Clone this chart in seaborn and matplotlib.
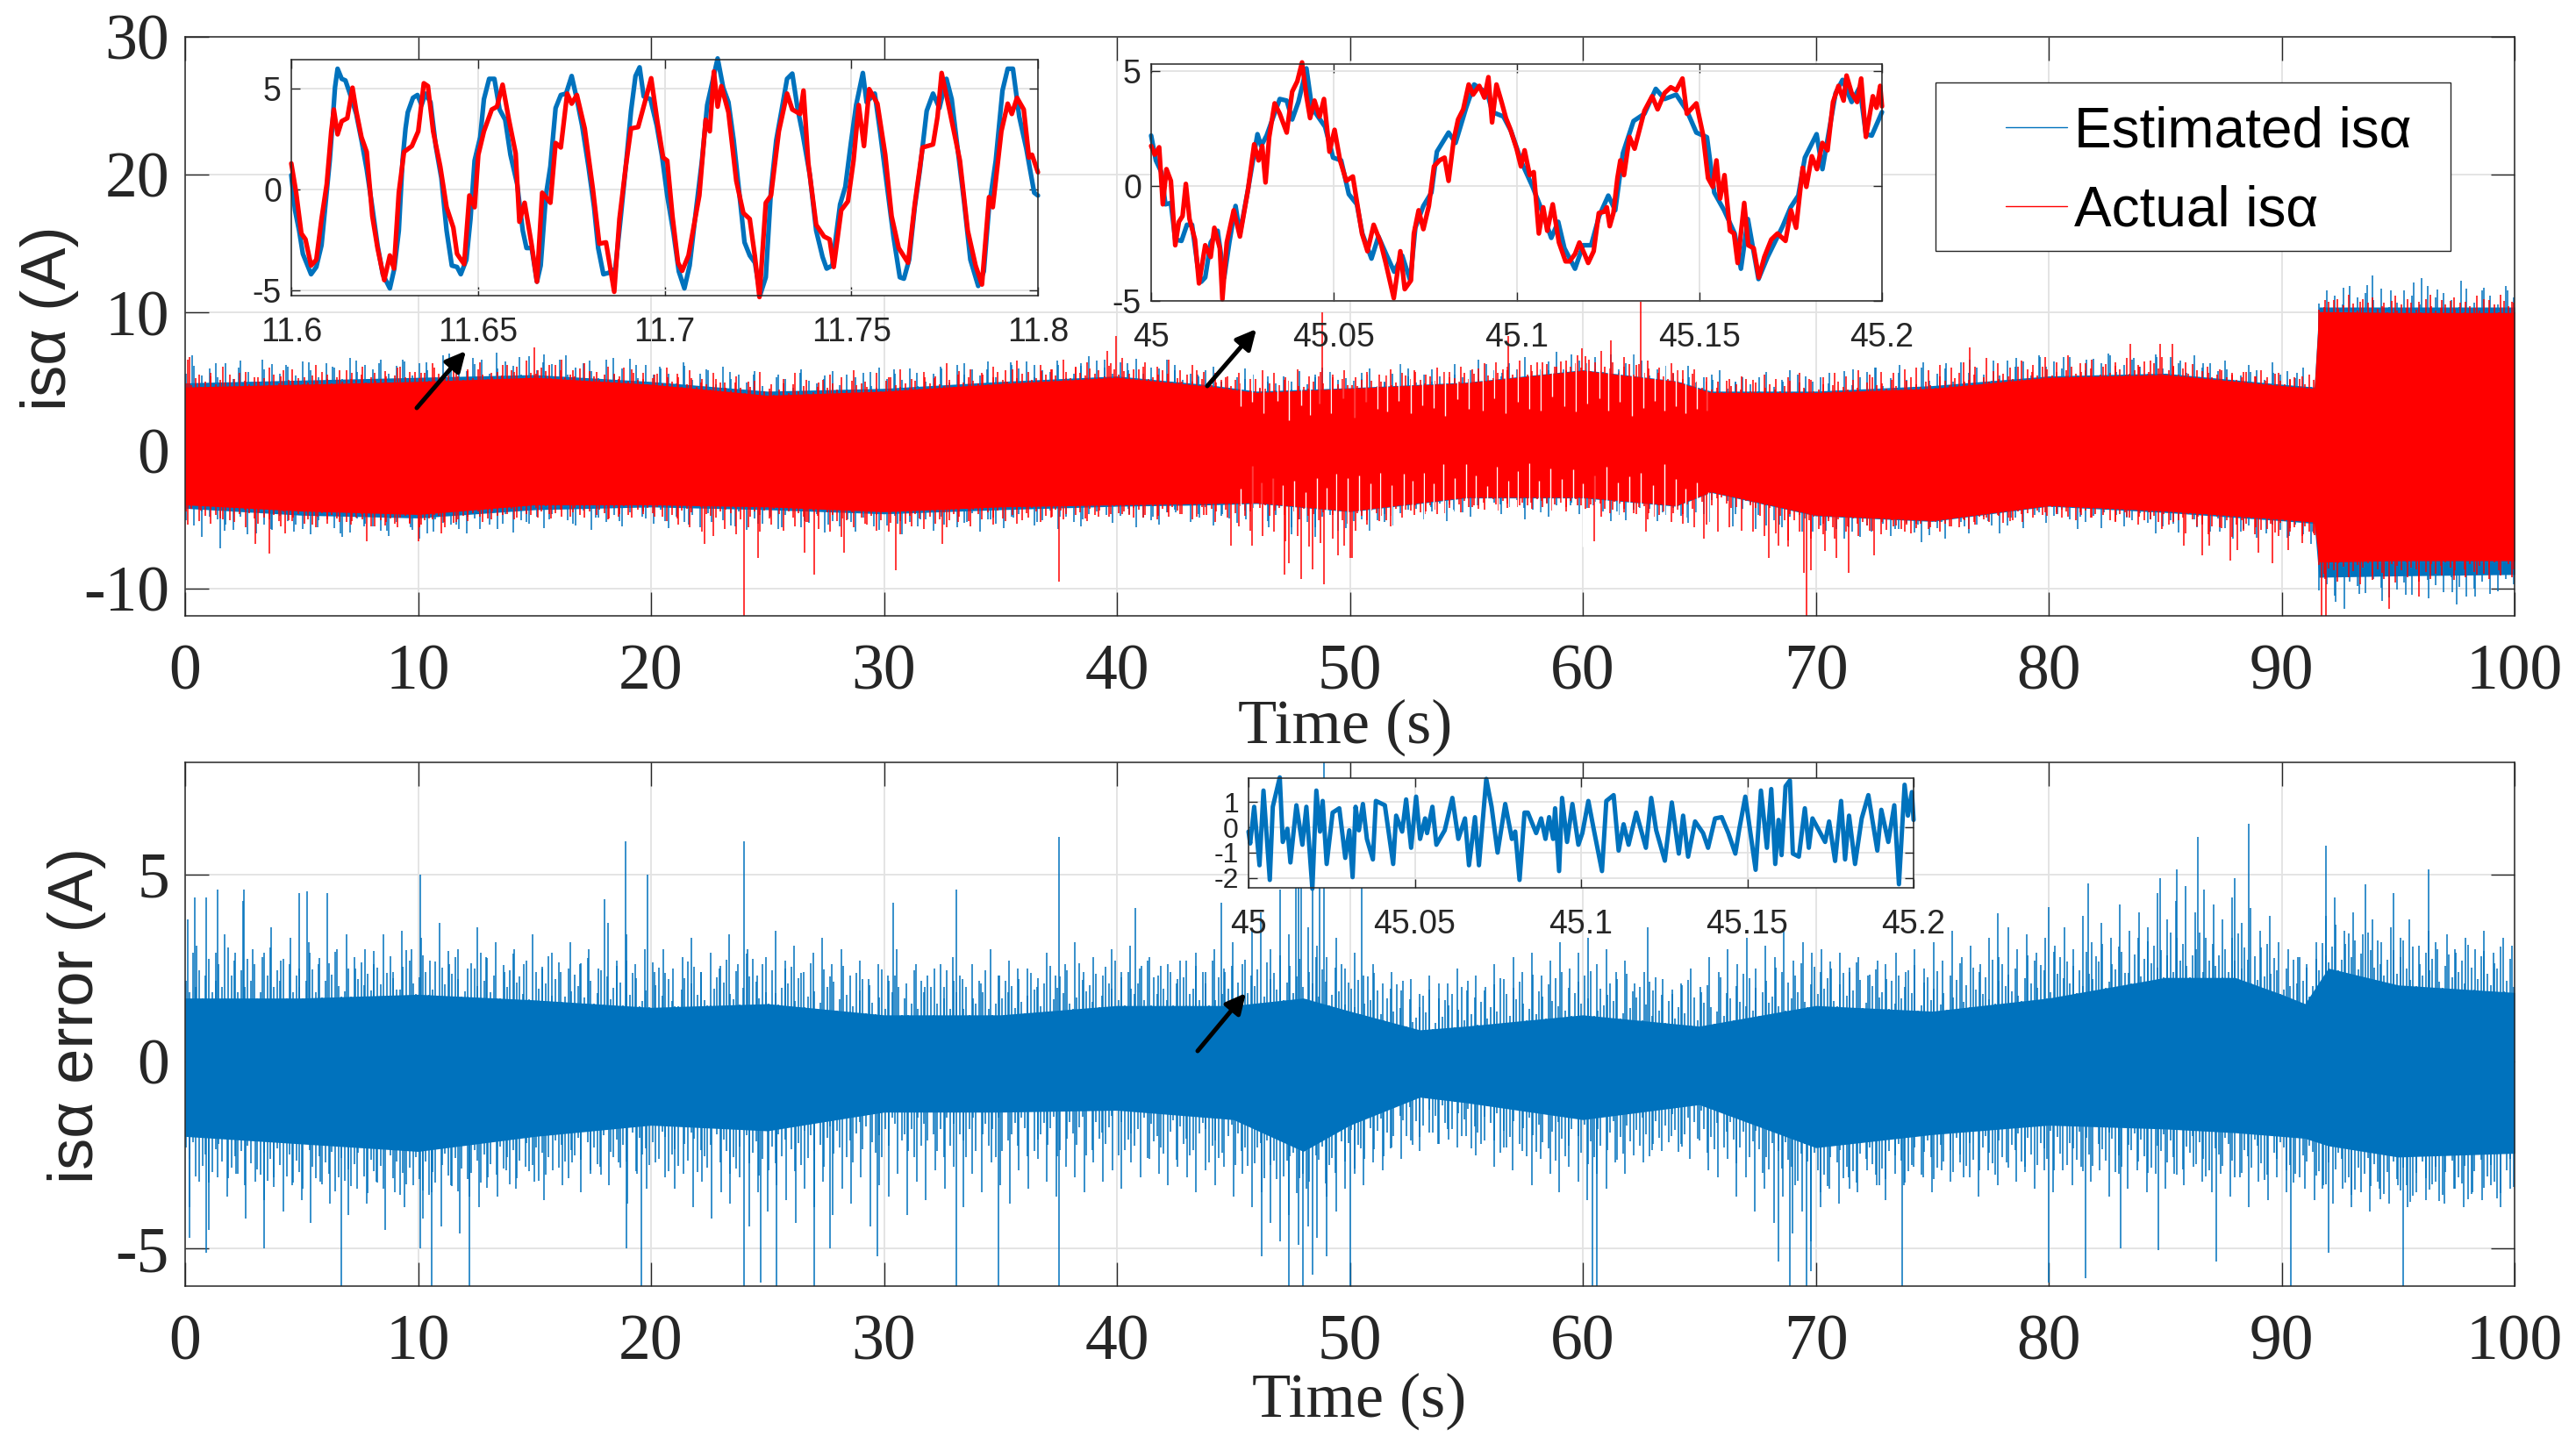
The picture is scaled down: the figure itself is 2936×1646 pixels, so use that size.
import numpy as np
import pandas as pd
import matplotlib
matplotlib.use('Agg')
import matplotlib.pyplot as plt
import seaborn as sns
from matplotlib.lines import Line2D
from matplotlib.patches import Rectangle, FancyArrowPatch

W, H = 2936, 1646
BLUE = '#0072BD'
RED = '#FF0000'
INK = '#262626'
GRID = '#E2E2E2'

# ---- main plot envelopes (A)
band_t = [0, 5, 10, 15, 20, 25, 30, 35, 40, 44, 46, 50, 55, 60, 64, 65.5, 70, 75, 80, 85, 90, 91.4, 91.6, 95, 100]
red_up = [4.6, 4.8, 5.0, 5.3, 4.8, 4.0, 4.3, 4.85, 5.3, 4.65, 4.2, 4.5, 4.9, 5.8, 5.0, 4.2, 4.2, 4.5, 5.3, 5.5, 4.7, 4.5, 10.07, 10.0, 10.0]
red_low = [-3.95, -4.4, -4.65, -3.95, -3.95, -4.1, -4.45, -4.1, -3.95, -3.85, -3.8, -4.4, -3.4, -3.4, -4.0, -3.0, -4.7, -5.1, -4.0, -4.4, -5.0, -5.2, -8.1, -8.0, -8.0]
blue_up = [4.9, 5.1, 5.3, 5.5, 5.0, 4.3, 4.5, 5.0, 5.4, 4.75, 4.3, 4.55, 4.95, 5.85, 5.05, 4.3, 4.3, 4.7, 5.4, 5.6, 4.8, 4.6, 10.4, 10.4, 10.4]
blue_low = [-4.2, -4.7, -4.9, -4.3, -4.1, -4.3, -4.6, -4.3, -4.05, -3.95, -3.85, -4.45, -3.45, -3.45, -4.05, -3.05, -4.75, -5.15, -4.05, -4.5, -5.1, -5.3, -9.2, -9.1, -9.0]

# short fringe on the band edges, height above the envelope in steps of 0.12 A, left to right
red_fringe_up = ("215036142708315240619324015273041862503127049316250841372051"
                 "630142857013264085132706314052916230471538026143075216304812"
                 "403716250148362017453120683241507362140925316047218350126473"
                 "051842630175243068124750316294013572640183251476032158407362"
                 "215840371206483152074316258031467250138260471352906143025718"
                 "360421573084162307452816035214706381250463172058341620573142"
                 "074158236041725318064275130462385017264013582740361528047136"
                 "251360482073146528013672405186324071536208413572604318250746")
red_fringe_low = ("420361572804136250371642058317240653128047362150843126075342"
                  "186250417306241853072614035827160342517068324015673241806352"
                  "714026358140237561048325071683250416273508141362705284130672"
                  "350148263071546238017352460182735041628503174260381547203168"
                  "024713586203416725083142657301824063571248036215740368125073"
                  "268140537261408325760134812057362041853720614358027146385204"
                  "173506284135027461830256147308526401783250461372805314260718"
                  "305241670382154036827451306241857023614507283146052738416025")
blue_fringe_up = ("473628194057362841750936482571630948257136408295714630825917"
                  "364082571946382075194368205719463802571846392075814360259741"
                  "638205971436820597143608259714368025971463082597416380259174"
                  "360825971463082579146308259714630825791463082571946302857194"
                  "638027591463082751946380275194638027519463802751946308275194")
blue_fringe_low = ("571346820957134682059713468205971346820571946382057194638205"
                   "719463820571946382075194638207519463820751946832075194683207"
                   "419568320741956832074195683207419568302741956830274195683027"
                   "415968302741596830274159683027415968302741596380274159638027"
                   "415963802741596380247159638024715963802471596380247159638024")

# taller hair tips, evenly spaced along the band
red_tips_up = [6.6, 5.5, 5.6, 6.1, 5.2, 5.7, 5.3, 6.0, 5.4, 5.9, 5.3, 6.2, 5.5, 5.8, 5.2, 6.1, 5.6, 5.4, 6.0, 5.7,
               5.6, 6.3, 5.5, 6.1, 5.9, 6.4, 5.6, 6.2, 5.7, 6.5, 5.8, 6.2, 6.6, 5.8, 6.3, 5.7, 6.1, 5.4, 5.9, 5.6,
               5.5, 6.0, 5.3, 5.8, 5.2, 5.6, 4.9, 5.4, 5.0, 5.7, 4.8, 5.2, 5.6, 5.1, 4.9, 5.5, 5.3, 5.8, 5.0, 5.6,
               5.3, 5.9, 5.2, 5.7, 5.4, 6.3, 5.5, 5.9, 5.6, 6.1, 5.8, 6.5, 5.7, 6.2, 5.9, 6.6, 6.0, 6.4, 5.8, 6.3,
               6.7, 5.9, 6.4, 6.1, 6.6, 5.8, 6.2, 5.7, 5.6, 5.4, 5.6, 5.2, 5.8, 5.6, 5.3, 5.9, 5.4, 5.7, 5.5, 5.8,
               5.3, 5.7, 5.5, 5.9, 5.6, 5.8, 5.5, 6.0, 5.7, 6.1, 5.9, 6.3, 6.4, 5.8, 6.5, 6.2, 6.4, 6.1, 6.5, 6.9,
               6.6, 7.2, 6.4, 6.8, 6.2, 6.5, 6.0, 6.3, 5.8, 5.9, 5.3, 5.0, 5.2, 5.4, 5.1, 5.5, 5.2, 5.3, 5.6, 5.1,
               5.3, 5.6, 5.4, 5.8, 5.5, 5.7, 5.6, 5.9, 6.0, 5.8, 6.2, 6.0, 6.4, 6.1, 6.7, 6.3, 6.0, 6.5, 6.2, 6.8,
               6.4, 6.9, 6.3, 6.6, 6.1, 6.4, 6.7, 6.2, 6.5, 6.8, 6.1, 6.4, 5.8, 5.6, 5.9, 5.5, 5.7, 5.4, 5.3, 5.6,
               5.2, 5.4, 5.1, 10.9, 11.0, 11.3, 10.8, 11.1, 10.7, 11.2, 11.0, 10.8, 11.3, 10.9, 11.1, 10.8, 11.2, 10.9, 11.3, 10.8]
red_tips_low = [-5.4, -5.1, -5.3, -5.0, -5.2, -5.6, -5.3, -5.0, -5.5, -5.1, -5.3, -5.6, -5.0, -5.2, -5.4, -5.0, -5.5, -5.2, -5.6, -5.3,
                -5.4, -5.0, -5.6, -5.2, -5.1, -4.8, -5.0, -4.7, -5.0, -4.6, -4.9, -4.6, -4.8, -4.5, -4.9, -4.7, -5.0, -4.6, -4.9, -4.6,
                -4.8, -5.1, -5.4, -5.6, -5.9, -6.2, -5.7, -6.1, -5.6, -5.9, -5.4, -5.8, -5.5, -5.2, -5.7, -5.9, -6.3, -5.6, -5.3, -5.8,
                -5.9, -6.1, -5.5, -5.7, -5.3, -5.6, -5.2, -5.5, -5.0, -5.4, -5.1, -5.3, -4.9, -5.2, -4.8, -5.0, -4.7, -5.1, -4.8, -4.6,
                -4.6, -4.9, -4.7, -5.0, -4.8, -4.6, -5.0, -4.7, -5.2, -4.9, -5.5, -5.8, -6.2, -5.9, -6.6, -6.2, -7.0, -6.7, -6.4, -6.9,
                -5.8, -5.4, -5.1, -5.5, -4.9, -4.7, -4.4, -4.6, -4.2, -4.5, -4.1, -4.3, -3.9, -4.2, -4.0, -3.8, -4.1, -3.9, -4.4, -4.0,
                -4.2, -4.8, -4.3, -4.5, -4.6, -5.0, -4.7, -5.2, -5.3, -5.6, -5.4, -5.9, -5.6, -5.8, -5.9, -6.2, -6.0, -6.5, -5.9, -6.4,
                -6.1, -6.4, -5.9, -6.2, -5.8, -6.1, -5.5, -5.9, -5.3, -5.7, -5.2, -5.5, -5.0, -5.4, -4.9, -4.7, -5.1, -4.6, -4.9, -4.5,
                -4.6, -4.8, -4.5, -4.9, -4.7, -5.1, -4.8, -5.4, -5.0, -5.7, -5.2, -6.0, -5.5, -6.1, -5.6, -6.3, -5.8, -6.1, -5.7, -6.2,
                -5.9, -6.2, -6.0, -9.3, -9.5, -9.2, -9.7, -9.4, -9.3, -9.6, -9.2, -9.5, -9.3, -9.1, -9.4, -9.2, -9.0, -9.3, -9.1, -9.2]
blue_tips_up = [6.9, 6.3, 6.0, 6.6, 6.2, 6.4, 6.1, 6.5, 6.3, 6.6, 6.4, 7.0, 6.7, 7.1, 6.8, 6.4, 6.9, 6.5, 6.7, 6.2,
                6.1, 6.4, 5.9, 5.7, 5.5, 5.3, 5.6, 5.2, 5.5, 5.7, 5.9, 5.6, 6.1, 6.3, 5.9, 6.4, 6.2, 6.5, 6.3, 6.6,
                6.3, 6.0, 5.8, 5.5, 5.0, 5.2, 5.4, 5.0, 5.5, 5.1, 5.2, 4.9, 5.4, 5.0, 5.5, 5.2, 5.6, 5.3, 5.8, 5.5,
                5.9, 5.6, 5.2, 5.0, 5.3, 5.1, 4.9, 5.3, 5.0, 5.4, 5.6, 5.9, 6.0, 6.2, 6.4, 6.3, 6.6, 6.5, 6.7, 6.8,
                6.8, 6.6, 6.9, 6.7, 6.8, 6.5, 6.3, 5.9, 5.7, 5.6, 5.6, 5.5, 11.8, 12.0, 11.6, 12.2, 11.7, 12.3, 11.8, 11.6]
blue_tips_low = [-6.3, -5.8, -6.1, -5.7, -5.9, -5.6, -6.0, -5.5, -5.8, -5.6, -5.9, -5.4, -5.7, -5.3, -5.2, -5.0, -5.3, -4.9, -5.1, -4.8,
                 -5.1, -5.4, -5.2, -5.5, -5.3, -5.6, -5.1, -5.4, -5.2, -5.5, -5.3, -5.0, -5.4, -5.2, -5.0, -4.9, -5.2, -4.8, -5.0, -4.7,
                 -4.6, -4.8, -4.5, -4.9, -4.6, -5.0, -5.6, -6.1, -6.3, -5.8, -5.0, -4.6, -4.3, -4.1, -4.3, -4.0, -3.9, -4.2, -3.8, -4.0,
                 -4.0, -4.4, -4.2, -4.5, -4.9, -5.2, -5.5, -5.7, -5.4, -5.9, -5.8, -5.6, -5.9, -5.7, -5.4, -5.2, -5.5, -5.1, -4.9, -4.7,
                 -4.6, -4.8, -4.5, -4.9, -5.0, -5.3, -5.6, -5.9, -5.7, -6.0, -6.2, -5.9, -11.0, -10.4, -10.9, -10.5, -10.7, -10.3, -10.6, -10.2]

# single tall spikes (s, A)
red_spikes = [(0.2, 6.8), (15, 7.5), (39.6, 7.2), (39.96, 8.3), (48.8, 10.0), (56.8, 8.3), (59.96, 7.4), (61.2, 8.0), (62.5, 10.8),
              (76.6, 7.5), (83.5, 7.7), (84.8, 7.7), (85.3, 7.7),
              (3, -6.8), (3.6, -7.5), (4.3, -6.0), (7.8, -6.6), (10, -6.6), (11, -6.0), (22.3, -6.8), (24, -12), (24.6, -7.8),
              (26.6, -7.4), (27, -9), (28.3, -7.4), (30.5, -8.7), (32.5, -6.8), (37.5, -9.5), (44.9, -6.9), (45.8, -6.9),
              (47.2, -9), (47.4, -8.2), (47.9, -9.3), (48.4, -8.6), (48.9, -9.7), (49.5, -7.6), (50, -7.8), (50.1, -7.8),
              (60.5, -6.6), (62.7, -5.9), (65.2, -6.4), (68, -7.8), (68.4, -6.9), (68.8, -7), (69.5, -8.9), (69.6, -12),
              (69.8, -8.7), (70.4, -7.3), (70.9, -7.8), (71.4, -8.9), (72.5, -7.6), (85.8, -6.9), (86.6, -7.6), (86.9, -6.9),
              (87.8, -8), (88.1, -7.2), (89, -7.4), (89.6, -8.2), (90.3, -7.2), (90.9, -6.7), (91.7, -12), (91.9, -12),
              (94.6, -11.5), (95.9, -10.6)]
blue_spikes = [(1.5, -7.1), (92.7, -11.5), (93.9, 12.7), (96, 12.5), (97.5, -11.2)]

# white slits inside the sparse stretch from 45 s to 65 s (s, A where the slit ends)
slits_up = [(45.3, 3.2), (45.8, 3.5), (46.3, 2.7), (46.9, 3.6), (47.4, 2.2), (47.9, 3.3), (48.3, 2.6), (48.7, 3.4), (49.2, 2.7),
            (49.7, 3.8), (50.2, 2.4), (50.7, 3.5), (51.2, 3.0), (51.6, 2.8), (52.1, 3.6), (52.6, 2.7), (53.1, 3.3), (53.6, 3.1),
            (54.1, 2.5), (54.6, 3.7), (55.1, 3.0), (55.7, 2.9), (56.2, 3.8), (56.7, 2.7), (57.2, 3.5), (57.7, 3.0), (58.2, 2.9),
            (58.7, 3.9), (59.2, 3.2), (59.7, 2.8), (60.2, 3.4), (60.7, 3.8), (61.1, 2.9), (61.6, 3.5), (62.1, 2.5), (62.6, 3.1),
            (63.1, 3.6), (63.5, 2.9), (64, 3.2), (64.4, 2.7), (64.9, 3.0), (65.3, 2.9)]
slits_low = [(45.3, -2.8), (45.8, -1.1), (46.2, -2.3), (46.7, -2.0), (47.1, -2.5), (47.6, -2.2), (48.1, -3.0), (48.6, -2.0),
             (49.0, -2.7), (49.4, -1.7), (49.9, -2.0), (50.4, -1.8), (50.9, -2.4), (51.3, -1.6), (51.8, -2.5), (52.3, -1.7),
             (52.7, -2.2), (53.2, -1.6), (53.6, -2.4), (54, -1.0), (54.5, -2.0), (55, -1.0), (55.4, -1.8), (55.9, -2.6),
             (56.3, -1.2), (56.8, -2.2), (57.2, -1.5), (57.7, -0.9), (58.1, -2.2), (58.6, -1.3), (59.1, -2.1), (59.6, -1.4),
             (60, -2.4), (60.5, -1.8), (61, -1.2), (61.5, -2.3), (62, -1.9), (62.5, -1.6), (63, -2.5), (63.5, -1.0), (64, -2.1),
             (64.4, -2.8), (64.9, -2.3), (65.4, -3.0)]

# ---- error plot
err_t = [0, 5, 10, 15, 20, 25, 30, 35, 40, 45, 48, 50, 53, 55, 60, 65, 70, 75, 80, 85, 88, 90, 91, 92, 95, 100]
err_up = [1.7, 1.7, 1.8, 1.65, 1.45, 1.55, 1.25, 1.25, 1.5, 1.5, 1.7, 1.35, 0.85, 0.95, 1.25, 0.95, 1.5, 1.35, 1.7, 2.25, 2.25, 1.8, 1.55, 2.5, 2.05, 1.85]
err_low = [-2.0, -2.2, -2.4, -2.0, -1.7, -1.85, -1.35, -1.35, -1.3, -1.55, -2.4, -1.7, -0.95, -1.1, -1.55, -1.15, -2.3, -1.95, -1.7, -1.8, -1.9, -2.0, -2.05, -2.25, -2.55, -2.45]
# fringe above the envelope in steps of 0.15 A
err_fringe_up = ("318250471362094815273601849253706142038517036482015073624185"
                 "204731158620374016052847301065283714006258341700526381470162"
                 "537184026051374082650130847265100358472610035748216039584172"
                 "062038471560283017465028301746052038164750302816475029381647"
                 "150326481027364518203746150824637102853416027438150632471805"
                 "273160485023716408152637041825360174528036147205381640273815"
                 "416027385104627380512463701825460371825046137280516473028154"
                 "063728150462738015246370182546037182504613728051647302815406"
                 "382715046238170526381047263581046273850164723805162473801562"
                 "471306258140736251804735261048372650184736250417326580143762"
                 "205814736250481736204581736240517382640517283640152738460152"
                 "631480257361408527314062583170426358104627351840267315480261")
err_fringe_low = ("241705386214075362814056273814062735801462735180264731058246"
                  "370152846301572846031572840651372840615382740165283740162583"
                  "415027368104527360182547306128547036128457301624857301642850"
                  "736152048371625048316250748316205748361205473816250473816204"
                  "583170426381705426138075426318705246318072546310827546301825"
                  "467031825476031285476031825470632815470632185476023185470263"
                  "184570263184750236184750263814750263184572036184752063814725"
                  "063814752036184725063184725036148725036148752036148572063148"
                  "520631485720361458720361485720316485720314685720314865207314"
                  "862503714862507314682507341682507346182507346182570346128570"
                  "341625870341625807341625870346125807346125870341265807341265"
                  "873041265873041625873014625873014652873016452873016425870316")
err_tips_up = [3.8, 3.1, 4.4, 2.9, 3.4, 2.7, 4.6, 3.0, 2.8, 3.6, 2.7, 3.3, 2.5, 3.2, 2.6, 4.5, 3.0, 3.4, 2.5, 3.0, 2.6, 3.4, 2.4, 3.5, 3.0,
               3.3, 2.7, 3.7, 2.6, 3.0, 2.5, 3.6, 2.8, 3.2, 2.4, 3.0, 2.6, 3.4, 2.5, 2.9, 2.4, 3.2, 2.6, 3.0, 2.5, 3.7, 2.7, 3.4, 2.6, 3.0,
               2.4, 3.0, 2.5, 2.8, 3.3, 2.4, 2.9, 2.5, 3.4, 2.6, 3.0, 2.3, 2.8, 3.5, 2.5, 3.1, 2.4, 2.9, 3.3, 2.6, 3.0, 2.3, 2.7, 2.2, 2.6,
               2.3, 3.0, 2.1, 2.6, 2.0, 2.5, 2.0, 2.8, 2.2, 2.6, 2.1, 3.0, 2.3, 2.7, 2.2, 2.5, 2.0, 2.9, 2.3, 2.6, 3.2, 2.4, 2.8, 2.3, 3.0,
               2.4, 3.1, 2.5, 2.8, 2.3, 2.6, 2.2, 2.7, 2.9, 2.4, 3.0, 2.5, 3.2, 2.6, 3.5, 4.0, 3.0, 4.6, 3.4, 4.8, 3.6, 3.1, 2.8, 3.3, 2.5,
               2.9, 2.3, 2.6, 2.1, 2.4, 1.9, 2.2, 1.8, 2.3, 1.7, 2.1, 2.5, 1.9, 2.3, 2.0, 2.6, 2.2, 2.8, 2.4, 2.9, 2.3, 2.7, 3.2, 2.5, 2.9,
               3.3, 2.6, 3.0, 2.4, 2.7, 2.1, 2.4, 1.9, 2.2, 1.8, 2.1, 2.5, 2.0, 2.8, 2.4, 3.0, 2.6, 3.3, 2.5, 3.1, 2.8, 3.5, 2.7, 3.2, 2.9,
               3.0, 2.5, 2.9, 2.4, 2.8, 2.3, 2.7, 2.2, 2.9, 2.4, 3.0, 2.5, 3.2, 2.7, 3.5, 2.8, 3.1, 2.6, 3.3, 2.8, 3.6, 3.0, 3.4, 2.9, 3.3,
               3.1, 3.6, 3.0, 3.9, 3.2, 3.7, 3.3, 4.2, 3.5, 4.0, 3.6, 4.5, 3.8, 4.3, 4.7, 4.0, 4.6, 4.2, 3.8, 4.4, 3.7, 4.1, 3.5, 3.9, 3.2,
               3.0, 2.8, 2.6, 3.2, 3.9, 4.4, 3.5, 4.0, 3.4, 3.8, 3.2, 3.6, 3.3, 3.8, 3.1, 3.5, 3.0, 3.4, 2.9, 3.3, 3.0, 3.5, 2.9, 3.3, 3.1]
err_tips_low = [-3.9, -3.2, -4.5, -3.1, -3.6, -3.0, -4.2, -3.2, -3.7, -3.1, -4.0, -3.3, -3.7, -4.3, -3.2, -3.8, -3.1, -4.1, -3.4, -3.8, -3.2, -4.5, -3.5, -3.9, -3.3,
                -4.2, -3.5, -4.4, -3.3, -4.6, -3.6, -3.9, -3.1, -3.6, -2.9, -3.4, -2.8, -3.2, -3.7, -2.9, -3.3, -2.7, -3.5, -3.0, -2.8, -3.3, -2.7, -3.8, -3.0, -3.4,
                -2.7, -3.1, -3.4, -3.0, -3.9, -3.2, -4.2, -3.5, -3.8, -3.1, -4.4, -3.5, -4.0, -3.3, -3.7, -4.3, -3.4, -3.9, -3.2, -4.1, -3.4, -3.8, -3.1, -4.4, -3.3,
                -3.6, -3.0, -4.1, -3.2, -3.7, -2.9, -3.4, -2.8, -3.9, -3.0, -3.5, -2.7, -3.3, -3.8, -2.9, -3.4, -2.6, -3.2, -3.6, -2.8, -3.1, -3.5, -2.7, -3.2, -2.9,
                -3.4, -2.7, -3.1, -2.6, -3.0, -3.3, -2.8, -3.1, -3.5, -2.9, -3.3, -2.8, -3.6, -3.0, -3.9, -3.5, -4.3, -4.8, -4.1, -4.9, -4.4, -4.7, -3.6, -4.0, -3.4,
                -3.0, -3.3, -2.7, -2.9, -2.3, -2.6, -2.1, -2.4, -1.9, -2.2, -1.8, -2.3, -2.0, -2.5, -2.1, -2.8, -2.3, -2.9, -2.4, -3.3, -2.6, -3.0, -3.5, -2.8, -3.2,
                -3.7, -3.0, -3.4, -2.7, -3.0, -2.5, -2.7, -2.2, -2.4, -2.0, -2.2, -2.6, -2.1, -2.9, -3.1, -2.6, -3.6, -3.1, -4.0, -3.4, -4.3, -3.6, -4.6, -4.0, -4.8,
                -3.9, -3.4, -3.8, -3.1, -3.5, -2.9, -3.3, -3.7, -3.0, -3.3, -2.8, -3.1, -3.5, -2.9, -3.2, -2.7, -3.1, -3.6, -2.9, -3.3, -2.7, -3.2, -2.8, -3.4, -2.9,
                -3.5, -2.9, -3.3, -2.8, -3.2, -2.9, -3.6, -3.0, -3.4, -2.9, -3.5, -3.0, -3.4, -3.0, -3.3, -2.8, -3.2, -3.5, -3.0, -3.6, -3.1, -3.9, -3.2, -3.7, -3.1,
                -3.5, -3.0, -3.4, -3.7, -3.3, -3.8, -3.4, -3.9, -3.5, -4.0, -3.4, -3.8, -3.3, -3.9, -3.5, -3.7, -3.2, -3.8, -3.4, -3.9, -3.5, -3.7, -3.3, -3.9, -3.4]
err_spikes = [(0.4, 4.4), (1.4, 4.6), (2.5, 4.3), (4.9, 4.5), (5.25, 4.55), (10.1, 5.0), (18, 4.35), (18.9, 5.9), (19.85, 5.0), (24, 5.9),
              (30.4, 4.25), (33.1, 4.6), (37.5, 6.0), (40.8, 4.1), (44.5, 4.25), (47.7, 5.2), (47.9, 4.9), (48.4, 5.6), (48.7, 5.0),
              (48.9, 8.0), (50.5, 4.9), (62.8, 3.6), (77.8, 3.97), (80, 4.13), (81.7, 4.77), (84.8, 4.9), (85.5, 5.14), (86.4, 6.0),
              (88, 4.9), (88.6, 6.36), (91.9, 5.77), (93.6, 4.74), (94.8, 4.5), (96.3, 5.14),
              (0.2, -4.7), (0.9, -5.1), (3.4, -5), (6.7, -6), (10.1, -5), (10.6, -6), (12.2, -6), (18.95, -5), (19.6, -6), (24, -6),
              (24.7, -5.9), (25.4, -6), (27, -6), (27.7, -5), (29.7, -5.2), (33.1, -6), (34.9, -6), (37.5, -6), (46.2, -5.2), (47.4, -6),
              (48, -6), (48.4, -5.7), (49, -5.2), (50, -6), (60.4, -6), (60.6, -6), (68.4, -5.35), (68.9, -6), (69.6, -6), (69.8, -5.6),
              (73.7, -6), (80, -5.9), (81.6, -5.8), (83.1, -5), (84.7, -5.05), (87.2, -5.35), (90.4, -6), (92, -5.1), (95.2, -6)]

# ---- insets: (ms after window start, A)
zoom1_est = [(0, 0.71), (1, -1.03), (2.1, -2.04), (3.1, -3.19), (5.3, -4.2), (6.7, -3.84), (8.1, -2.76), (10.3, 1.43), (11, 3.16), (11.7, 5.04), (12.4, 5.98), (13.5, 5.48), (14.5, 5.4), (15.95, 4.61), (17.4, 3.74), (18.8, 2.44), (20.2, 1), (21.7, -0.88), (23.1, -2.76), (24.5, -4.2), (26.4, -4.9), (27.6, -3.92), (28.8, -2.04), (29.8, 1.43), (30.6, 3.02), (31.2, 3.82), (32.6, 4.54), (33.8, 4.68), (34.9, 4.18), (35.9, 4.75), (37.3, 4.32), (38.7, 2.15), (40.2, 0.56), (41.6, -2.04), (43, -3.77), (44.4, -3.84), (45.4, -4.2), (46.9, -3.48), (48, -1.46), (49.1, 1.43), (50.6, 2.59), (51.6, 4.47), (53, 5.48), (54.4, 5.48), (55.8, 3.96), (57.3, 3.45), (58.7, 1.72), (60.5, 0.27), (62, -2.04), (63, -2.9), (64.4, -2.9), (65.8, -4.57), (66.8, -3.77), (68.2, -0.3), (69.4, 1.14), (70.8, 4.03), (72.2, 4.68), (73.6, 4.75), (75.1, 5.62), (76.5, 4.47), (77.9, 3.16), (79.6, 1.14), (81.1, -0.88), (82.2, -2.9), (83.6, -4.2), (85, -4.13), (86.8, -3.92), (88.2, -1.46), (89.6, 1.14), (91, 3.89), (92.2, 5.62), (93.3, 6.05), (94.4, 4.61), (96.2, 4.47), (97.9, 3.16), (99.3, 1.65), (100.7, -0.3), (102.4, -2.18), (103.8, -4.06), (105.3, -4.9), (106.7, -3.77), (108.5, -0.88), (110, 1.43), (111.4, 4.18), (112.8, 5.33), (114.2, 6.49), (115.7, 5.04), (117.1, 4.32), (118.5, 2.44), (119.9, 0), (121.4, -2.62), (122.8, -3.27), (124.2, -3.63), (125.6, -5.22), (127.1, -4.35), (128.5, 0), (129.9, 2.44), (131.3, 3.89), (132.8, 5.48), (134.2, 5.74), (135.6, 4.03), (137, 2.73), (138.9, 0.71), (140.6, -2.04), (142.3, -3.34), (143.4, -3.92), (144.9, -3.77), (147, -0.74), (148.4, 0.13), (149.9, 2.3), (151.3, 4.18), (153.1, 5.77), (154.1, 4.32), (156.3, 4.75), (157.7, 2.88), (159.4, 0.42), (161.3, -2.33), (163, -4.35), (164.1, -4.42), (165.5, -3.48), (167, -0.88), (168.4, 1), (170.2, 3.89), (171.9, 4.75), (173.6, 4.03), (175.5, 5.48), (176.9, 4.47), (178.3, 2.3), (180.2, -0.59), (181.9, -3.48), (184, -4.78), (185.5, -4.06), (186.9, -0.88), (188.7, 1.43), (190.5, 4.9), (191.9, 5.98), (193.3, 5.98), (195, 3.6), (196.9, 2.01), (199, -0.16), (200, -0.3)]
zoom1_act = [(0, 1.29), (1.3, -0.16), (2.7, -2.18), (3.8, -2.47), (5.3, -3.77), (6.7, -3.48), (8.1, -1.46), (9.5, 0.27), (10.7, 2.88), (11.4, 3.96), (12.4, 2.73), (13.5, 3.38), (15, 3.53), (16.4, 5.04), (17.4, 3.89), (18.8, 2.59), (20.2, 1.86), (21.7, -1.32), (23.1, -2.9), (24.9, -4.49), (26.4, -3.27), (27.5, -3.92), (28.8, -0.16), (30.2, 1.86), (32.3, 2.15), (34, 2.88), (35.5, 5.26), (36.6, 5.12), (38, 2.88), (39.9, 1.14), (41.6, -0.88), (43.4, -1.89), (44.4, -3.19), (46.3, -3.7), (47.7, -0.3), (49.1, -0.88), (50.1, 1.72), (51.6, 2.88), (53.7, 3.96), (55.1, 4.1), (56.6, 5.19), (58.3, 3.45), (60.1, 1.79), (61.1, -1.6), (62.5, -0.66), (64.4, -2.76), (65.8, -4.57), (67.2, -0.16), (69.4, -0.66), (70.8, 2.3), (72.2, 2.08), (73.9, 4.75), (75.1, 4.25), (76.5, 4.68), (78.6, 3.02), (80.8, 0), (82.5, -2.69), (84.3, -2.62), (86.5, -5.07), (87.9, -1.46), (89.6, 1.14), (91, 3.02), (92.9, 3.09), (94.7, 4.32), (96.4, 5.51), (98.1, 3.31), (99.6, 1.58), (100.7, 1.43), (102.1, -1.32), (103.6, -3.63), (104.7, -4.03), (106.4, -3.27), (109.3, -0.3), (111, 3.45), (112.1, 2.88), (113.2, 5.84), (114.2, 4.1), (115.2, 5.12), (117.1, 3.82), (119.2, 0.42), (121.1, -1.17), (122.8, -1.46), (124.2, -3.34), (125.4, -5.33), (127.1, -0.66), (128.5, -0.3), (130.6, 2.88), (132.8, 4.75), (134.2, 3.96), (136.3, 3.74), (137.2, 4.9), (138.5, 1.29), (140.6, -1.75), (142.7, -2.33), (144.2, -2.47), (145.3, -3.84), (147.3, -1.03), (149.1, -0.59), (150.6, 1.43), (152, 4.18), (153.4, 2.15), (154.8, 4.97), (157, 4.25), (159.1, 1.72), (160.8, -1.32), (162.7, -2.9), (165.2, -3.63), (167, -0.74), (169.1, 2.08), (171.9, 2.23), (173.1, 3.6), (174.2, 5.77), (176.2, 4.03), (179.1, 1.43), (181.2, -2.04), (183.3, -3.77), (185, -4.71), (186.9, -0.38), (187.9, -0.88), (190.2, 2.88), (191.9, 4.25), (193, 3.74), (194.4, 4.54), (196.2, 3.96), (197.6, 1.58), (198.4, 1.72), (200, 0.85)]
zoom2_est = [(0, 2.19), (1.3, 1.11), (2.8, 0.6), (3.9, -0.8), (5.4, -0.74), (6.6, -2.33), (8.3, -2.39), (9.8, -1.69), (11.2, -1.69), (12.7, -3.47), (13.7, -4.17), (14.8, -3.98), (16.3, -2.46), (18.2, -1.95), (20, -3.98), (21.4, -2.46), (23.1, -0.87), (24.3, -2.07), (26.5, -0.17), (29.1, 2.25), (30.1, 1.74), (31.6, 2.19), (35.2, 3.78), (37.1, 3.71), (38.6, 2.89), (40.3, 3.65), (42.5, 5.11), (44, 3.4), (47.6, 2.57), (49.8, 1.23), (52, 1.11), (54.1, -0.36), (56.3, -0.8), (57.8, -2.07), (60.3, -3.16), (62.2, -2.2), (64.3, -2.96), (66.5, -3.73), (68.7, -3.03), (70.9, -4.11), (72.3, -1.82), (74.5, -0.87), (76.7, -0.29), (78.2, 1.49), (81.4, 2.32), (83.3, 1.87), (86.2, 3.4), (88.4, 4.41), (92, 4.03), (93.4, 3.21), (96.4, 3.02), (98.5, 2.38), (101.5, 0.98), (104.4, -0.04), (106.6, -0.93), (109.5, -2.26), (111.4, -1.56), (113.1, -2.71), (116, -3.6), (118.2, -2.58), (120.4, -2.58), (122.6, -1.31), (125.1, -0.42), (127, -1.06), (129.1, 1.42), (132, 2.82), (135, 3.14), (138.1, 4.22), (140.5, 3.78), (143.7, 3.97), (146.6, 3.27), (149.2, 2.32), (152.1, 2.12), (154.1, -0.29), (156.8, -1.06), (159.7, -2.07), (161.4, -3.6), (163.3, -1.44), (166.2, -4.05), (168.7, -3.09), (172.8, -1.76), (175, -0.93), (177.1, -0.42), (178.9, 1.23), (182.1, 2.25), (183.7, 0.73), (187.3, 4.03), (189.2, 4.61), (191.7, 3.65), (193.9, 4.29), (195.6, 2.25), (197.2, 2.19), (200, 3.21)]
zoom2_act = [(0, 1.74), (1, 1.36), (2.2, 1.68), (3.2, -0.8), (4.2, 0.73), (5.4, 0.22), (6.6, -2.58), (7.6, -1.56), (8.6, -1.31), (9.5, 0.09), (10.5, -1.44), (12, -2.33), (13.1, -4.24), (14.8, -2.58), (16.3, -3.09), (17.3, -1.82), (18.8, -2.71), (19.5, -4.93), (20.7, -2.46), (22.6, -1.06), (24.3, -2.2), (26.5, -0.17), (28.2, 1.81), (29.4, 1.11), (30.4, 1.74), (31.3, 0.15), (32.3, 2.12), (33.8, 3.59), (35.2, 3.14), (37.1, 2.32), (38.6, 4.1), (40, 4.55), (41.3, 5.37), (42.5, 3.9), (43.5, 2.95), (44.7, 3.71), (46.1, 3.01), (47.3, 3.78), (48.8, 1.49), (50.2, 2.44), (51.7, 1.11), (53.4, 0.22), (55.2, 0.41), (56.3, -0.67), (57.7, -2.07), (59.2, -2.84), (60.9, -1.69), (62.8, -2.46), (64.2, -3.35), (66.4, -4.88), (68.2, -2.84), (69.4, -4.49), (71.1, -4.11), (71.9, -2.07), (73.2, -1.06), (74.5, -1.88), (76, -0.87), (77.4, 0.85), (78.9, 1.11), (80.3, 1.23), (81.4, 0.22), (82.8, 2.0), (84, 2.89), (85.4, 3.33), (86.9, 4.41), (88.1, 3.97), (89.8, 4.35), (91.2, 3.84), (92.3, 4.73), (93.3, 2.76), (94.5, 4.41), (95.9, 3.65), (97.1, 2.95), (98.2, 2.51), (100, 1.62), (101.2, 0.85), (102.2, 1.55), (103.6, 0.47), (104.7, 0.6), (106.1, -2.07), (107.3, -0.93), (108.4, -1.95), (109.9, -0.8), (111.6, -2.46), (113.4, -3.28), (114.5, -3.28), (116, -2.96), (117.2, -2.46), (118.6, -2.96), (119.6, -3.35), (121.1, -2.84), (122.5, -1.18), (124, -1.12), (124.7, -0.93), (125.5, -1.75), (126.5, -1.18), (127.6, 0.34), (128.4, 1.11), (129.4, 0.47), (130.9, 2.13), (132.3, 1.62), (135, 3.27), (137.1, 3.9), (138.6, 3.33), (140.5, 4.04), (142.2, 4.29), (143.7, 4.16), (145.4, 4.67), (146.6, 3.14), (149.2, 3.59), (151, 2.25), (152.4, 0.34), (153.7, -0.04), (154.7, 1.11), (155.7, -0.55), (156.9, 0.47), (158.4, -1.95), (159.5, -2.07), (160.5, -3.35), (162.3, -0.74), (163.4, -2.58), (164.9, -2.71), (166.3, -3.98), (167.8, -3.09), (169.7, -2.33), (171.4, -2.07), (173.6, -2.39), (175.1, -1.06), (176.5, -1.82), (178.3, 0.79), (179.3, -0.04), (180.8, 1.29), (182.2, 0.73), (183.7, 1.87), (185.1, 1.55), (186.6, 3.65), (188.1, 4.35), (189.5, 3.71), (190.3, 4.8), (191.7, 4.04), (193.2, 3.65), (194.3, 4.67), (195.6, 2.13), (197.5, 3.9), (198.5, 3.4), (199.5, 4.35), (200, 3.46)]
zoom3_err = [(0, -0.17), (0.5, -0.64), (1.7, 0.81), (3.3, -1.5), (4.5, 1.45), (6.4, -2.08), (7.3, 0.81), (9.4, 1.97), (10.3, -0.58), (11.7, -0.06), (12.6, -1.39), (14.4, 0.87), (16.2, -0.69), (17.4, 0.81), (19.2, -2.43), (20.4, 1.45), (21.5, -0.17), (22.3, 1.04), (23.5, -1.45), (25.3, 0.58), (27.3, 0.75), (29.1, -1.21), (30.3, -0.12), (31.3, -1.97), (32.2, 0.81), (33.2, -0.12), (34.4, 0.92), (35.6, -0.46), (37.4, -1.27), (38.3, 1.04), (41, 0.87), (43.5, -1.45), (44.4, 0.46), (46.2, -0.17), (47.4, 1.1), (48.9, -0.81), (50.4, 1.21), (51.6, -0.46), (53.1, 0.35), (53.7, -0.23), (55.3, 0.81), (56.5, -0.69), (59, -0.12), (61.3, 1.16), (63.1, -0.46), (65.1, 0.35), (66.3, -1.5), (68.1, 0.4), (69.3, -1.5), (71.5, 1.91), (73.1, 0.81), (74.9, -1.0), (77.2, 0.92), (79.2, -0.46), (80.2, -0.17), (81.5, -2.08), (83, 0.58), (84, 0.58), (86.5, -0.23), (88, 0.35), (89.3, -0.46), (90.4, 0.4), (91.6, -0.46), (92.2, 0.75), (93.4, -1.73), (94.3, 1.16), (95.8, -0.58), (97.4, 0.92), (99.2, -0.69), (100.4, -0.23), (102.2, 1.04), (103.7, 0), (106.3, -1.73), (107.6, 1.04), (109.8, 1.27), (111.3, -0.92), (112.8, 0.12), (114.3, -0.69), (116.6, 0.58), (119.5, -0.81), (121.1, 1.16), (122.6, -0.12), (125.2, -1.32), (127.3, 0.98), (129.4, -1.04), (130.7, 0.46), (132.2, -1.16), (134.3, 0.23), (136.7, -0.23), (138.2, -0.81), (140.3, 0.35), (142.3, 0.4), (144.3, -0.23), (146.4, -1.04), (147.6, -0.06), (149.4, 1.21), (152.5, -1.68), (154.1, 1.45), (155.9, -0.81), (157.2, 1.51), (158.4, -1.45), (159.4, 0.29), (160.3, -1.1), (161.5, 1.62), (162.8, 1.85), (163.7, -1.04), (165.5, -1.16), (167.3, 0.75), (168.5, -0.81), (169.6, 0.35), (173.4, -0.58), (174.6, 0.23), (176.4, -1.33), (178.2, 1.04), (179.4, -1.27), (180.6, 0.46), (182.4, -1.45), (184.4, 0.35), (186.4, 1.27), (189.1, -0.92), (190.3, 0.69), (192.4, -0.58), (194.2, 0.87), (195.6, -2.25), (197.3, 1.68), (198.3, 0.46), (199.5, 1.39), (200, 0.29)]

sns.set_theme(style='ticks')
plt.rcParams['font.family'] = ['Liberation Serif', 'DejaVu Sans']
plt.rcParams['text.color'] = INK
plt.rcParams['axes.edgecolor'] = INK
plt.rcParams['axes.unicode_minus'] = False

fig = plt.figure(figsize=(W / 100, H / 100), dpi=100, facecolor='white')


def box(x0, y0, x1, y1):
    # pixel box of the picture to figure fractions
    return [x0 / W, 1 - y1 / H, (x1 - x0) / W, (y1 - y0) / H]


def hairs(ax, ts, vals, color, z, lw=1.1):
    ax.vlines(ts, 0, vals, color=color, lw=lw, zorder=z)


def fringe(ax, digits, knots, edge, step, color, z, sign=1):
    # digits are heights beyond the envelope
    heights = np.array([int(c) for c in digits]) * step
    ts = np.linspace(0.05, 99.95, len(heights))
    hairs(ax, ts, np.interp(ts, knots, edge) + sign * heights, color, z)


def style_main(ax, ylim, yticks, xlabel_xy, ylabel, ylabel_xy):
    ax.set_xlim(0, 100)
    ax.set_ylim(*ylim)
    ax.set_xticks(range(0, 101, 10))
    ax.set_yticks(yticks)
    ax.grid(True, color=GRID, lw=1.3)
    ax.set_axisbelow(True)
    ax.tick_params(direction='in', length=19.5, width=1.0, color=INK, top=True, right=True,
                   labelsize=53, labelcolor=INK)
    ax.tick_params(axis='x', pad=23)
    ax.tick_params(axis='y', pad=13)
    for s in ax.spines.values():
        s.set_linewidth(1.1)
        s.set_zorder(20)
    ax.set_xlabel('Time (s)', fontsize=52, va='center', ha='center')
    ax.xaxis.set_label_coords(xlabel_xy[0] / W, 1 - xlabel_xy[1] / H, transform=fig.transFigure)
    ax.set_ylabel(ylabel, fontsize=52, family='Liberation Sans', va='center', ha='center')
    ax.yaxis.set_label_coords(ylabel_xy[0] / W, 1 - ylabel_xy[1] / H, transform=fig.transFigure)


def make_inset(rect, start, ylim, yticks, xlabels, ysize=27):
    ax = fig.add_axes(box(*rect), facecolor='white', zorder=10)
    ax.set_xlim(start, start + 0.2)
    ax.set_ylim(*ylim)
    ax.set_xticks([start + 0.05 * i for i in range(5)], xlabels)
    ax.set_yticks(yticks)
    ax.grid(True, color=GRID, lw=1.3)
    ax.tick_params(direction='in', length=7, width=1.0, color=INK, top=True, right=True,
                   labelsize=27, labelcolor=INK)
    ax.tick_params(axis='x', pad=17)
    ax.tick_params(axis='y', pad=8, labelsize=ysize)
    for lab in ax.get_xticklabels() + ax.get_yticklabels():
        lab.set_family('Liberation Sans')
    for s in ax.spines.values():
        s.set_linewidth(1.1)
    return ax


def trace(ax, pairs, start, color, lw):
    df = pd.DataFrame(pairs, columns=['ms', 'amp'])
    df['t'] = start + df['ms'] / 1000
    sns.lineplot(data=df, x='t', y='amp', color=color, lw=lw, ax=ax, estimator=None, sort=False, clip_on=False)
    ax.set_xlabel('')
    ax.set_ylabel('')


# ---- top plot
ax1 = fig.add_axes(box(211, 42, 2866, 702))
ax1.fill_between(band_t, blue_low, blue_up, color=BLUE, lw=0, zorder=2)
fringe(ax1, blue_fringe_up, band_t, blue_up, 0.17, BLUE, 2.05)
fringe(ax1, blue_fringe_low, band_t, blue_low, 0.17, BLUE, 2.05, sign=-1)
hairs(ax1, np.linspace(0.3, 99.7, len(blue_tips_up)), blue_tips_up, BLUE, 2.1)
hairs(ax1, np.linspace(0.7, 99.3, len(blue_tips_low)), blue_tips_low, BLUE, 2.1)
hairs(ax1, [p[0] for p in blue_spikes], [p[1] for p in blue_spikes], BLUE, 2.1)
ax1.fill_between(band_t, red_low, red_up, color=RED, lw=0, zorder=3)
fringe(ax1, red_fringe_up, band_t, red_up, 0.12, RED, 3.05)
fringe(ax1, red_fringe_low, band_t, red_low, 0.12, RED, 3.05, sign=-1)
ax1.vlines([p[0] for p in slits_up], [p[1] for p in slits_up], 7, color='white', lw=1.0, zorder=3.1)
ax1.vlines([p[0] for p in slits_low], -7, [p[1] for p in slits_low], color='white', lw=1.0, zorder=3.1)
hairs(ax1, np.linspace(0.1, 99.9, len(red_tips_up)), red_tips_up, RED, 3.2)
hairs(ax1, np.linspace(0.1, 99.9, len(red_tips_low)), red_tips_low, RED, 3.2)
hairs(ax1, [p[0] for p in red_spikes], [p[1] for p in red_spikes], RED, 3.3)
style_main(ax1, (-12, 30), [-10, 0, 10, 20, 30], (1533, 829), 'isα (A)', (57, 363))

# legend frame and entries
fig.add_artist(Rectangle((2206 / W, 1 - 286 / H), 587 / W, 192.5 / H, transform=fig.transFigure,
                         facecolor='white', edgecolor=INK, lw=1.0, zorder=9))
handles = [Line2D([], [], color=BLUE, lw=1.0), Line2D([], [], color=RED, lw=1.0)]
leg = fig.legend(handles, ['Estimated isα', 'Actual isα'], loc='upper left', bbox_to_anchor=(2286 / W, 1 - 120 / H),
                 frameon=False, borderpad=0, borderaxespad=0, handlelength=1.1, handletextpad=0.12, labelspacing=0.48,
                 prop={'family': 'Liberation Sans', 'size': 46}, labelcolor='black')
leg.set_zorder(11)

in1 = make_inset((332, 68, 1183, 337), 11.6, (-5.26, 6.43), [-5, 0, 5], ['11.6', '11.65', '11.7', '11.75', '11.8'])
trace(in1, zoom1_est, 11.6, BLUE, 3.8)
trace(in1, zoom1_act, 11.6, RED, 3.8)
in2 = make_inset((1312, 73, 2145, 343), 45, (-5, 5.3), [-5, 0, 5], ['45', '45.05', '45.1', '45.15', '45.2'])
trace(in2, zoom2_est, 45, BLUE, 3.8)
trace(in2, zoom2_act, 45, RED, 3.8)

# ---- bottom plot
ax2 = fig.add_axes(box(211, 869, 2866, 1466))
ax2.fill_between(err_t, err_low, err_up, color=BLUE, lw=0, zorder=2)
fringe(ax2, err_fringe_up, err_t, err_up, 0.15, BLUE, 2.05)
fringe(ax2, err_fringe_low, err_t, err_low, 0.15, BLUE, 2.05, sign=-1)
hairs(ax2, np.linspace(0.1, 99.9, len(err_tips_up)), err_tips_up, BLUE, 2.1)
hairs(ax2, np.linspace(0.2, 99.8, len(err_tips_low)), err_tips_low, BLUE, 2.1)
hairs(ax2, [p[0] for p in err_spikes], [p[1] for p in err_spikes], BLUE, 2.2)
style_main(ax2, (-6, 8), [-5, 0, 5], (1549, 1597), 'isα error (A)', (88, 1157))

in3 = make_inset((1423, 887, 2181, 1012), 45, (-2.39, 1.94), [-2, -1, 0, 1], ['45', '45.05', '45.1', '45.15', '45.2'], ysize=23)
trace(in3, zoom3_err, 45, BLUE, 3.6)

# arrows pointing from the traces to the insets
for tail, head in [((475, 465), (531, 400)), ((1376, 440), (1432, 375)), ((1365, 1198), (1420, 1132))]:
    fig.add_artist(FancyArrowPatch(
        (tail[0] / W, 1 - tail[1] / H), (head[0] / W, 1 - head[1] / H), transform=fig.transFigure,
        arrowstyle='-|>', mutation_scale=34, lw=3.6, color='black', shrinkA=0, shrinkB=0, zorder=12))

fig.savefig('out.png', dpi=100)
